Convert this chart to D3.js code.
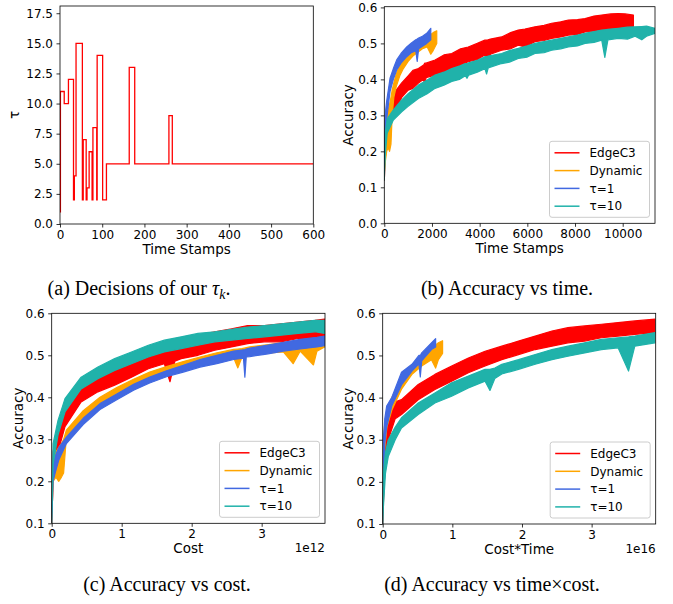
<!DOCTYPE html>
<html>
<head>
<meta charset="utf-8">
<script src="https://cdn.jsdelivr.net/npm/d3@7"></script>
<style>
  body { margin: 0; background: #fff; }
  svg text { font-family: "DejaVu Sans", sans-serif; fill: #000; }
  .caption { font-family: "Liberation Serif", serif; }
</style>
</head>
<body>
<div id="chart"></div>
<script>
// ---- (a) tau decisions: step starts and values ----
const tauTime  = [0, 1, 10, 20, 32, 34, 38, 53, 55, 62, 64, 69, 76, 78, 87, 88, 101, 110, 164, 177, 258, 266, 600];
const tauValue = [1, 11, 10, 12, 2, 4, 15, 2, 7, 2, 3, 6, 2, 8, 2, 14, 2, 5, 13, 5, 9, 5, 5];

const seriesNames = ["EdgeC3", "Dynamic", "\u03c4=1", "\u03c4=10"];
const seriesColors = ["#ff0000", "#ffa500", "#4169e1", "#20b2aa"];

// ---- (b) accuracy vs time stamps: [x, low, high] of the noisy band ----
const bEdgeC3 = [[0,0.12,0.15],[40,0.18,0.25],[100,0.24,0.29],[200,0.27,0.32],[350,0.30,0.35],[500,0.32,0.37],
  [730,0.35,0.39],[1000,0.37,0.41],[1200,0.375,0.425],[1430,0.39,0.43],[1650,0.40,0.44],[1700,0.38,0.445],[1750,0.405,0.445],
  [2130,0.412,0.454],[2500,0.42,0.468],[2830,0.43,0.472],[3200,0.44,0.485],[3520,0.449,0.49],[3900,0.455,0.5],
  [4220,0.468,0.509],[4350,0.44,0.51],[4450,0.47,0.512],[4920,0.481,0.518],[5300,0.485,0.53],[5620,0.495,0.537],
  [5900,0.49,0.54],[6320,0.505,0.546],[6700,0.508,0.55],[7020,0.514,0.556],[7400,0.518,0.56],[7720,0.523,0.565],
  [8100,0.525,0.566],[8420,0.532,0.569],[8800,0.533,0.576],[9120,0.537,0.579],[9500,0.538,0.582],
  [9820,0.542,0.583],[10100,0.54,0.582],[10450,0.546,0.579]];
const bDynamic = [[0,0.14,0.18],[40,0.17,0.27],[100,0.2,0.29],[160,0.21,0.31],[220,0.2,0.33],[280,0.22,0.35],
  [330,0.3,0.37],[400,0.35,0.39],[500,0.38,0.415],[650,0.41,0.44],[800,0.43,0.46],[1000,0.45,0.475],
  [1200,0.465,0.49],[1400,0.475,0.5],[1600,0.485,0.51],[1800,0.49,0.52],[1950,0.47,0.525],[2050,0.48,0.53],
  [2200,0.5,0.535]];
const bTau1 = [[0,0.14,0.2],[30,0.22,0.3],[100,0.29,0.34],[240,0.366,0.403],[380,0.4,0.43],[520,0.426,0.454],
  [700,0.445,0.472],[940,0.463,0.49],[1150,0.475,0.502],[1320,0.48,0.51],[1380,0.45,0.512],[1440,0.485,0.515],
  [1600,0.492,0.52],[1780,0.5,0.528],[1950,0.51,0.542]];
const bTau10 = [[0,0.12,0.15],[40,0.19,0.25],[120,0.25,0.29],[380,0.287,0.315],[730,0.31,0.343],[1000,0.325,0.36],
  [1430,0.347,0.384],[1800,0.36,0.398],[2130,0.375,0.412],[2500,0.384,0.42],[2830,0.394,0.43],[3150,0.4,0.437],
  [3400,0.41,0.444],[3470,0.403,0.444],[3540,0.412,0.446],[3900,0.42,0.453],
  [4220,0.43,0.463],[4290,0.415,0.463],[4360,0.432,0.465],[4920,0.444,0.472],[5250,0.448,0.48],[5620,0.458,0.486],
  [6000,0.462,0.493],[6320,0.472,0.5],[6700,0.474,0.505],[7020,0.481,0.509],[7400,0.485,0.514],[7720,0.49,0.518],
  [8100,0.493,0.523],[8420,0.5,0.528],[8800,0.503,0.533],[9120,0.509,0.537],[9250,0.461,0.538],[9380,0.51,0.539],
  [9820,0.514,0.542],[10200,0.512,0.545],[10520,0.52,0.546],[10800,0.51,0.547],[11000,0.52,0.548],[11350,0.528,0.542]];

// ---- (c) accuracy vs cost (x in 1e12) ----
const cEdgeC3 = [[0,0.1,0.12],[0.02,0.2,0.27],[0.09,0.27,0.33],[0.19,0.33,0.385],[0.42,0.389,0.437],[0.66,0.413,0.46],
  [0.9,0.429,0.484],[1.14,0.448,0.5],[1.38,0.468,0.516],[1.61,0.48,0.528],[1.69,0.437,0.53],[1.76,0.486,0.532],
  [1.85,0.492,0.54],[2.09,0.5,0.548],[2.33,0.512,0.556],[2.57,0.52,0.563],[2.8,0.528,0.571],[3.04,0.532,0.571],
  [3.28,0.532,0.575],[3.52,0.54,0.579],[3.76,0.54,0.583],[3.9,0.544,0.586]];
const cDynamic = [[0,0.1,0.12],[0.02,0.2,0.25],[0.06,0.21,0.27],[0.1,0.2,0.28],[0.14,0.21,0.29],[0.17,0.22,0.3],
  [0.21,0.305,0.322],[0.45,0.352,0.368],[0.69,0.385,0.4],[0.93,0.408,0.423],[1.17,0.428,0.443],[1.4,0.446,0.46],
  [1.64,0.459,0.473],[1.88,0.47,0.485],[2.12,0.48,0.496],[2.36,0.488,0.506],[2.6,0.494,0.514],[2.66,0.47,0.515],
  [2.72,0.496,0.516],[2.83,0.5,0.52],[3.07,0.505,0.525],[3.31,0.508,0.53],[3.45,0.48,0.532],[3.55,0.51,0.533],
  [3.74,0.477,0.535],[3.79,0.51,0.536],[3.9,0.52,0.536]];
const cTau1 = [[0,0.1,0.14],[0.02,0.2,0.24],[0.05,0.22,0.26],[0.1,0.25,0.28],[0.21,0.29,0.305],[0.45,0.335,0.35],
  [0.69,0.371,0.385],[0.93,0.394,0.408],[1.17,0.417,0.431],[1.4,0.434,0.448],[1.64,0.449,0.463],[1.88,0.46,0.476],
  [2.12,0.472,0.49],[2.36,0.48,0.5],[2.6,0.49,0.51],[2.74,0.493,0.513],[2.76,0.448,0.513],[2.78,0.496,0.515],
  [2.83,0.497,0.517],[3.07,0.503,0.524],[3.31,0.51,0.531],[3.55,0.515,0.538],[3.79,0.52,0.543],[3.9,0.523,0.546]];
const cTau10 = [[0,0.1,0.14],[0.02,0.24,0.29],[0.09,0.31,0.345],[0.19,0.365,0.397],[0.42,0.42,0.448],
  [0.66,0.444,0.472],[0.9,0.464,0.492],[1.14,0.48,0.508],[1.38,0.496,0.524],[1.61,0.508,0.536],[1.85,0.516,0.544],
  [2.09,0.524,0.552],[2.33,0.532,0.556],[2.57,0.536,0.562],[2.8,0.54,0.567],[3.04,0.544,0.571],[3.28,0.548,0.575],
  [3.52,0.552,0.579],[3.76,0.556,0.583],[3.9,0.552,0.583]];

// ---- (d) accuracy vs cost*time (x in 1e16) ----
const dEdgeC3 = [[0,0.1,0.13],[0.01,0.15,0.26],[0.04,0.26,0.31],[0.08,0.3,0.34],[0.18,0.35,0.39],[0.27,0.36,0.395],
  [0.51,0.395,0.431],[0.75,0.419,0.455],[0.99,0.439,0.475],[1.23,0.459,0.494],[1.47,0.475,0.51],[1.71,0.49,0.522],
  [1.95,0.502,0.534],[2.19,0.514,0.546],[2.43,0.522,0.558],[2.66,0.53,0.566],[2.9,0.534,0.57],[3.14,0.542,0.574],
  [3.38,0.546,0.578],[3.62,0.55,0.582],[3.91,0.554,0.586]];
const dDynamic = [[0,0.1,0.15],[0.01,0.2,0.3],[0.03,0.28,0.34],[0.06,0.33,0.37],[0.13,0.37,0.4],[0.27,0.42,0.445],
  [0.42,0.455,0.475],[0.56,0.475,0.5],[0.7,0.49,0.52],[0.76,0.47,0.525],[0.8,0.49,0.53],[0.86,0.505,0.535]];
const dTau1 = [[0,0.1,0.15],[0.01,0.2,0.3],[0.03,0.29,0.35],[0.057,0.33,0.38],[0.13,0.38,0.4],[0.27,0.43,0.46],
  [0.42,0.463,0.479],[0.52,0.48,0.5],[0.54,0.449,0.5],[0.56,0.487,0.506],[0.7,0.514,0.53],[0.76,0.52,0.54]];
const dTau10 = [[0,0.1,0.13],[0.01,0.14,0.22],[0.04,0.22,0.27],[0.08,0.26,0.3],[0.18,0.3,0.33],[0.27,0.328,0.352],
  [0.51,0.36,0.387],[0.75,0.387,0.411],[0.99,0.403,0.435],[1.23,0.423,0.451],[1.47,0.439,0.467],[1.54,0.417,0.467],
  [1.61,0.445,0.47],[1.71,0.456,0.479],[1.95,0.467,0.49],[2.19,0.479,0.502],[2.43,0.49,0.514],[2.66,0.498,0.522],
  [2.9,0.506,0.53],[3.14,0.514,0.538],[3.38,0.518,0.542],[3.53,0.463,0.544],[3.62,0.522,0.546],[3.91,0.53,0.554]];

const svg = d3.select("#chart").append("svg")
  .attr("width", 673)
  .attr("height", 604);

let clipCount = 0;

function drawPanel(cfg) {
  const x = d3.scaleLinear().domain(cfg.xDomain).range([cfg.left, cfg.right]);
  const y = d3.scaleLinear().domain(cfg.yDomain).range([cfg.bottom, cfg.top]);
  const g = svg.append("g");

  const clipId = "clip" + (clipCount++);
  g.append("clipPath").attr("id", clipId)
    .append("rect")
    .attr("x", cfg.left).attr("y", cfg.top)
    .attr("width", cfg.right - cfg.left).attr("height", cfg.bottom - cfg.top);

  const plot = g.append("g").attr("clip-path", "url(#" + clipId + ")");

  if (cfg.step) {
    const pts = cfg.step.x.map((t, i) => [t, cfg.step.y[i]]);
    plot.append("path")
      .datum(pts)
      .attr("fill", "none")
      .attr("stroke", "#ff0000")
      .attr("stroke-width", 1.3)
      .attr("d", d3.line().x(d => x(d[0])).y(d => y(d[1])).curve(d3.curveStepAfter));
  }

  if (cfg.bands) {
    const area = d3.area()
      .x(d => x(d[0]))
      .y0(d => y(d[1]))
      .y1(d => y(d[2]));
    cfg.bands.forEach((band, i) => {
      plot.append("path")
        .datum(band)
        .attr("fill", seriesColors[i])
        .attr("stroke", seriesColors[i])
        .attr("stroke-width", 1.2)
        .attr("stroke-linejoin", "round")
        .attr("d", area);
    });
  }

  // axes
  const xAxis = g.append("g")
    .attr("transform", "translate(0," + cfg.bottom + ")")
    .call(d3.axisBottom(x).tickValues(cfg.xTicks).tickFormat(cfg.xFormat).tickSize(3.5).tickPadding(3));
  const yAxis = g.append("g")
    .attr("transform", "translate(" + cfg.left + ",0)")
    .call(d3.axisLeft(y).tickValues(cfg.yTicks).tickFormat(cfg.yFormat).tickSize(3.5).tickPadding(3.5));

  [xAxis, yAxis].forEach(a => {
    a.select(".domain").remove();
    a.selectAll(".tick line").attr("stroke", "#000").attr("stroke-width", 0.8);
    a.selectAll(".tick text").attr("font-size", 12).attr("font-family", "DejaVu Sans");
  });

  g.append("rect")
    .attr("x", cfg.left).attr("y", cfg.top)
    .attr("width", cfg.right - cfg.left).attr("height", cfg.bottom - cfg.top)
    .attr("fill", "none").attr("stroke", "#000").attr("stroke-width", 0.8);

  g.append("text")
    .attr("x", (cfg.left + cfg.right) / 2)
    .attr("y", cfg.bottom + 29.5)
    .attr("text-anchor", "middle")
    .attr("font-size", 13.5)
    .text(cfg.xLabel);

  g.append("text")
    .attr("transform", "translate(" + (cfg.left - cfg.yLabelGap) + "," + ((cfg.top + cfg.bottom) / 2) + ") rotate(-90)")
    .attr("text-anchor", "middle")
    .attr("font-size", 13.5)
    .text(cfg.yLabel);

  if (cfg.offset) {
    g.append("text")
      .attr("x", cfg.right)
      .attr("y", cfg.bottom + 29)
      .attr("text-anchor", "end")
      .attr("font-size", 12)
      .text(cfg.offset);
  }

  if (cfg.legend) drawLegend(g, cfg.right - 5.5, cfg.bottom - 6);
}

function drawLegend(g, right, bottom) {
  const w = 100, h = 76, left = right - w, top = bottom - h;
  g.append("rect")
    .attr("x", left).attr("y", top)
    .attr("width", w).attr("height", h)
    .attr("rx", 2.5)
    .attr("fill", "#fff").attr("fill-opacity", 0.8)
    .attr("stroke", "#cccccc").attr("stroke-width", 1);
  seriesNames.forEach((name, i) => {
    const cy = top + 11.5 + i * 17.8;
    g.append("line")
      .attr("x1", left + 5).attr("x2", left + 30)
      .attr("y1", cy).attr("y2", cy)
      .attr("stroke", seriesColors[i]).attr("stroke-width", 1.5);
    g.append("text")
      .attr("x", left + 40).attr("y", cy)
      .attr("dy", "0.35em")
      .attr("font-size", 12)
      .text(name);
  });
}

const f1 = d3.format(".1f");
const fInt = d3.format("d");
const accTicks = [0.1, 0.2, 0.3, 0.4, 0.5, 0.6];

drawPanel({
  left: 60, right: 313.3, top: 6, bottom: 224,
  xDomain: [0, 600], yDomain: [0, 18.1],
  xTicks: [0, 100, 200, 300, 400, 500, 600], xFormat: fInt,
  yTicks: [0, 2.5, 5, 7.5, 10, 12.5, 15, 17.5], yFormat: f1,
  xLabel: "Time Stamps", yLabel: "\u03c4", yLabelGap: 41,
  step: {x: tauTime, y: tauValue}
});

drawPanel({
  left: 384.3, right: 655, top: 6.7, bottom: 223.3,
  xDomain: [0, 11355], yDomain: [0, 0.602],
  xTicks: [0, 2000, 4000, 6000, 8000, 10000], xFormat: fInt,
  yTicks: [0, 0.1, 0.2, 0.3, 0.4, 0.5, 0.6], yFormat: f1,
  xLabel: "Time Stamps", yLabel: "Accuracy", yLabelGap: 31,
  bands: [bEdgeC3, bDynamic, bTau1, bTau10], legend: true
});

drawPanel({
  left: 51.7, right: 325, top: 313.3, bottom: 523.3,
  xDomain: [0, 3.905], yDomain: [0.1, 0.6],
  xTicks: [0, 1, 2, 3], xFormat: fInt,
  yTicks: accTicks, yFormat: f1,
  xLabel: "Cost", yLabel: "Accuracy", yLabelGap: 29, offset: "1e12",
  bands: [cEdgeC3, cDynamic, cTau1, cTau10], legend: true
});

drawPanel({
  left: 382.7, right: 655.7, top: 313.3, bottom: 524,
  xDomain: [0, 3.92], yDomain: [0.1, 0.6],
  xTicks: [0, 1, 2, 3], xFormat: fInt,
  yTicks: accTicks, yFormat: f1,
  xLabel: "Cost*Time", yLabel: "Accuracy", yLabelGap: 30, offset: "1e16",
  bands: [dEdgeC3, dDynamic, dTau1, dTau10], legend: true
});

// sub-figure captions
function caption(cx, cy, parts) {
  const t = svg.append("text")
    .attr("class", "caption")
    .attr("x", cx).attr("y", cy)
    .attr("text-anchor", "middle")
    .attr("font-size", 20);
  parts.forEach(p => {
    const s = t.append("tspan").text(p.text);
    if (p.italic) s.attr("font-style", "italic");
    if (p.sub) s.attr("font-size", 14).attr("baseline-shift", "-25%");
  });
}

caption(139, 295, [{text: "(a) Decisions of our "}, {text: "\u03c4", italic: true}, {text: "k", italic: true, sub: true}, {text: "."}]);
caption(507, 295, [{text: "(b) Accuracy vs time."}]);
caption(167, 591, [{text: "(c) Accuracy vs cost."}]);
caption(492, 591, [{text: "(d) Accuracy vs time\u00d7cost."}]);
</script>
</body>
</html>
